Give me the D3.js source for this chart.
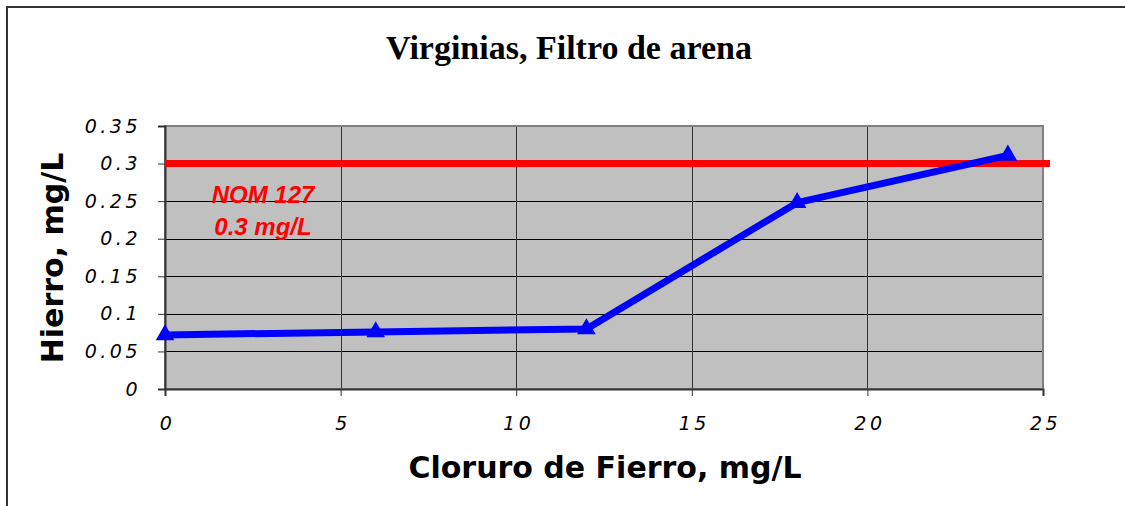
<!DOCTYPE html>
<html>
<head>
<meta charset="utf-8">
<script src="https://cdn.jsdelivr.net/npm/d3@7"></script>
<style>
  body { margin: 0; background: #fff; }
  svg { display: block; }
</style>
</head>
<body>
<script>
// Cloruro de Fierro dose (mg/L) vs. residual iron (mg/L)
const dose = [0, 6, 12, 18, 24];
const hierro = [0.072, 0.076, 0.080, 0.248, 0.311];
const limite = 0.3;
const xTicks = [0, 5, 10, 15, 20, 25];
const yTicks = [0, 0.05, 0.1, 0.15, 0.2, 0.25, 0.3, 0.35];

const W = 1125, H = 506;
const plot = { left: 165, right: 1043, top: 126, bottom: 389 };

const svg = d3.select("body").append("svg").attr("width", W).attr("height", H);

// outer frame
svg.append("rect").attr("x", 7).attr("y", 7).attr("width", W + 10).attr("height", H + 10)
  .attr("fill", "none").attr("stroke", "#333").attr("stroke-width", 2);

const x = d3.scaleLinear().domain([0, 25]).range([plot.left, plot.right]);
const y = d3.scaleLinear().domain([0, 0.35]).range([plot.bottom, plot.top]);

// plot background
svg.append("rect").attr("x", plot.left).attr("y", plot.top)
  .attr("width", plot.right - plot.left).attr("height", plot.bottom - plot.top)
  .attr("fill", "#c0c0c0");

// grid
const grid = svg.append("g").attr("stroke", "#000").attr("stroke-width", 1).attr("shape-rendering", "crispEdges");
grid.selectAll("line.h").data(yTicks.slice(1, -1)).join("line")
  .attr("x1", plot.left).attr("x2", plot.right)
  .attr("y1", d => Math.round(y(d)) + 0.5).attr("y2", d => Math.round(y(d)) + 0.5);
grid.selectAll("line.v").data(xTicks.slice(1, -1)).join("line")
  .attr("stroke", "#333")
  .attr("y1", plot.top).attr("y2", plot.bottom)
  .attr("x1", d => Math.round(x(d)) + 0.5).attr("x2", d => Math.round(x(d)) + 0.5);

// plot border
svg.append("rect").attr("x", plot.left).attr("y", plot.top)
  .attr("width", plot.right - plot.left).attr("height", plot.bottom - plot.top)
  .attr("fill", "none").attr("stroke", "#808080").attr("stroke-width", 2);

// axes
const tickFont = "'DejaVu Sans', sans-serif";
const yAxis = svg.append("g").attr("transform", `translate(${plot.left},0)`)
  .call(d3.axisLeft(y).tickValues(yTicks).tickSize(7).tickPadding(17).tickFormat(d => String(+d.toFixed(2))));
const xAxis = svg.append("g").attr("transform", `translate(0,${plot.bottom})`)
  .call(d3.axisBottom(x).tickValues(xTicks).tickSize(7).tickPadding(21).tickFormat(d => d));
[yAxis, xAxis].forEach(a => {
  a.select(".domain").attr("stroke", "#333").attr("stroke-width", 2);
  a.selectAll(".tick line").attr("stroke", "#333");
  a.selectAll(".tick text")
    .attr("fill", "#000")
    .style("font-family", tickFont)
    .style("font-style", "italic")
    .style("font-size", "19px")
    .style("letter-spacing", "3.5px");
});
xAxis.selectAll(".tick text").attr("dx", "2px");

// regulatory limit
svg.append("line")
  .attr("x1", plot.left).attr("x2", plot.right + 7)
  .attr("y1", y(limite)).attr("y2", y(limite))
  .attr("stroke", "#ff0000").attr("stroke-width", 7);

const labelFont = "'Liberation Sans', Arial, sans-serif";
svg.append("text").attr("x", 263).attr("y", 203).attr("text-anchor", "middle")
  .attr("fill", "#ff0000").style("font-family", labelFont)
  .style("font-weight", "bold").style("font-style", "italic").style("font-size", "24px")
  .text("NOM 127");
svg.append("text").attr("x", 263).attr("y", 235).attr("text-anchor", "middle")
  .attr("fill", "#ff0000").style("font-family", labelFont)
  .style("font-weight", "bold").style("font-style", "italic").style("font-size", "24px")
  .text(`${limite} mg/L`);

// data series
const pts = dose.map((d, i) => [d, hierro[i]]);
svg.append("path").datum(pts)
  .attr("d", d3.line().x(d => x(d[0])).y(d => y(d[1])))
  .attr("fill", "none").attr("stroke", "#0000ff").attr("stroke-width", 7)
  .attr("stroke-linejoin", "round");
svg.selectAll("path.mk").data(pts).join("path")
  .attr("transform", d => `translate(${x(d[0])},${y(d[1])})`)
  .attr("d", d3.symbol(d3.symbolTriangle, 150))
  .attr("fill", "#0000ff");

// titles
svg.append("text").attr("x", 569).attr("y", 59).attr("text-anchor", "middle")
  .style("font-family", "'Liberation Serif', 'Times New Roman', serif")
  .style("font-weight", "bold").style("font-size", "34px")
  .text("Virginias, Filtro de arena");
svg.append("text").attr("x", 605).attr("y", 478).attr("text-anchor", "middle")
  .style("font-family", "'DejaVu Sans', Verdana, sans-serif")
  .style("font-weight", "bold").style("font-size", "30px")
  .text("Cloruro de Fierro, mg/L");
svg.append("text").attr("transform", "translate(63,258) rotate(-90)").attr("text-anchor", "middle")
  .style("font-family", "'DejaVu Sans', Verdana, sans-serif")
  .style("font-weight", "bold").style("font-size", "30px")
  .text("Hierro, mg/L");
</script>
</body>
</html>
